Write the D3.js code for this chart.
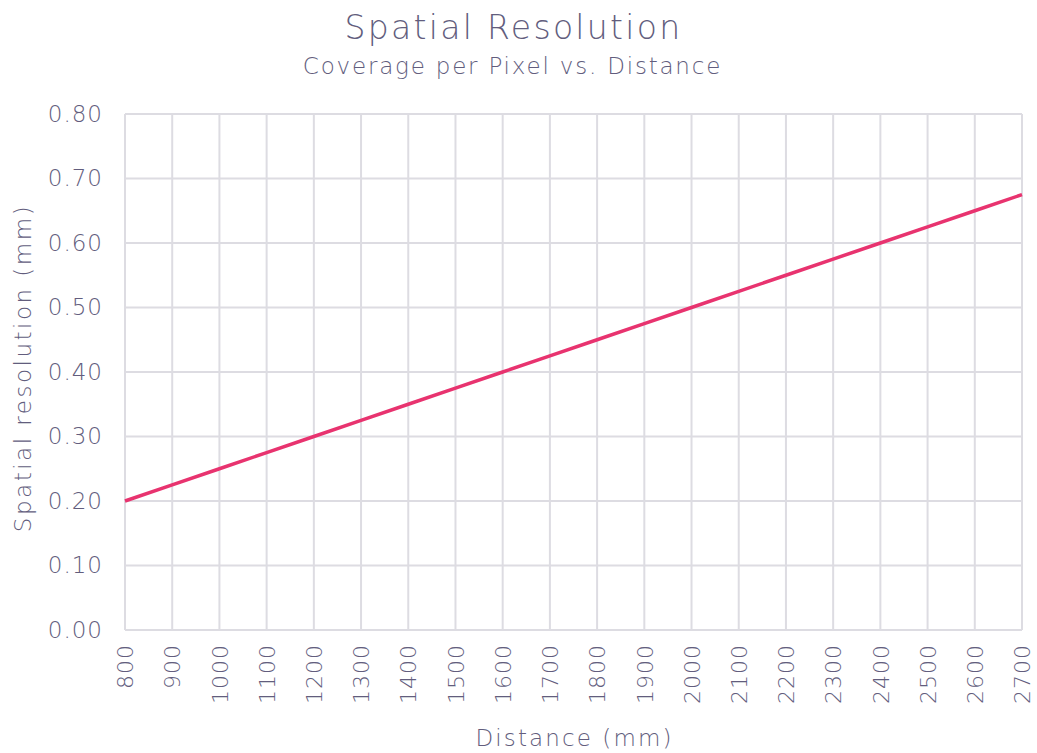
<!DOCTYPE html>
<html>
<head>
<meta charset="UTF-8">
<script src="https://d3js.org/d3.v7.min.js"></script>
<style>
  body { margin: 0; background: #fff; }
  text { font-family: "DejaVu Sans", sans-serif; font-weight: 200; fill: #625d7d; }
</style>
</head>
<body>
<div id="chart"></div>
<script>
    // distances (mm) and spatial resolution (mm)
    const distances = [800, 900, 1000, 1100, 1200, 1300, 1400, 1500, 1600, 1700,
        1800, 1900, 2000, 2100, 2200, 2300, 2400, 2500, 2600, 2700];
    const resolution = [0.200, 0.225, 0.250, 0.275, 0.300, 0.325, 0.350, 0.375, 0.400, 0.425,
        0.450, 0.475, 0.500, 0.525, 0.550, 0.575, 0.600, 0.625, 0.650, 0.675];
    const yTicks = [0, 0.1, 0.2, 0.3, 0.4, 0.5, 0.6, 0.7, 0.8];

    const W = 1037, H = 753;
    const margin = {top: 114, right: 15, bottom: 123, left: 125},
        width = W - margin.left - margin.right,
        height = H - margin.top - margin.bottom;

    const svg = d3.select("#chart")
        .append("svg")
        .attr("width", W)
        .attr("height", H);

    const g = svg.append("g")
        .attr("transform", `translate(${margin.left},${margin.top})`);

    const x = d3.scaleLinear().domain([800, 2700]).range([0, width]);
    const y = d3.scaleLinear().domain([0, 0.8]).range([height, 0]);

    // grid
    g.append("g")
        .selectAll("line")
        .data(yTicks)
        .join("line")
        .attr("x1", 0).attr("x2", width)
        .attr("y1", d => y(d)).attr("y2", d => y(d))
        .attr("stroke", "#dddce2").attr("stroke-width", 2);
    g.append("g")
        .selectAll("line")
        .data(distances)
        .join("line")
        .attr("x1", d => x(d)).attr("x2", d => x(d))
        .attr("y1", 0).attr("y2", height)
        .attr("stroke", "#dddce2").attr("stroke-width", 2);

    // y axis labels
    const yAxis = g.append("g")
        .call(d3.axisLeft(y).tickValues(yTicks).tickFormat(d3.format(".2f")).tickSize(0).tickPadding(22));
    yAxis.select(".domain").remove();
    yAxis.selectAll("text")
        .style("font-size", "23px")
        .style("letter-spacing", "1px")
        .attr("fill", null);

    // x axis labels
    const xAxis = g.append("g")
        .attr("transform", `translate(0,${height})`)
        .call(d3.axisBottom(x).tickValues(distances).tickFormat(d3.format("d")).tickSize(0));
    xAxis.select(".domain").remove();
    xAxis.selectAll("text")
        .style("font-size", "22px")
        .style("letter-spacing", "1px")
        .attr("fill", null)
        .attr("text-anchor", "end")
        .attr("transform", "rotate(-90)")
        .attr("x", -14)
        .attr("y", 0)
        .attr("dy", "0.35em");

    // the line
    const pts = distances.map((d, i) => [d, resolution[i]]);
    g.append("path")
        .datum(pts)
        .attr("fill", "none")
        .attr("stroke", "#e8336f")
        .attr("stroke-width", 3.5)
        .attr("d", d3.line().x(d => x(d[0])).y(d => y(d[1])));

    // titles
    svg.append("text")
        .attr("x", W / 2 - 5).attr("y", 39)
        .attr("text-anchor", "middle")
        .style("font-size", "33px")
        .style("letter-spacing", "2.3px")
        .text("Spatial Resolution");
    svg.append("text")
        .attr("x", W / 2 - 6).attr("y", 74)
        .attr("text-anchor", "middle")
        .style("font-size", "23px")
        .style("letter-spacing", "1.8px")
        .text("Coverage per Pixel vs. Distance");

    svg.append("text")
        .attr("x", margin.left + width / 2 + 1).attr("y", 746)
        .attr("text-anchor", "middle")
        .style("font-size", "23px")
        .style("letter-spacing", "2.1px")
        .text("Distance (mm)");

    svg.append("text")
        .attr("transform", `translate(31,${368}) rotate(-90)`)
        .attr("text-anchor", "middle")
        .style("font-size", "23px")
        .style("letter-spacing", "2.5px")
        .text("Spatial resolution (mm)");
</script>
</body>
</html>
